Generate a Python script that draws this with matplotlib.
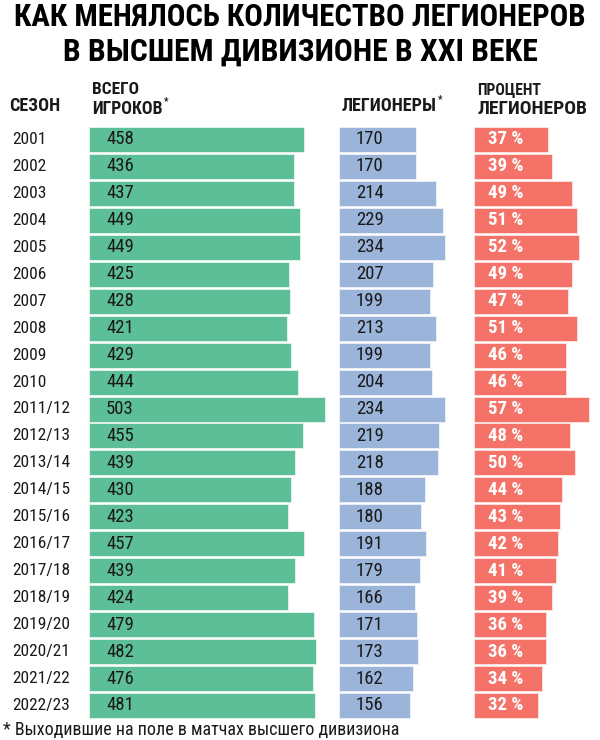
import matplotlib
matplotlib.use("Agg")
import matplotlib.pyplot as plt

seasons = ["2001", "2002", "2003", "2004", "2005", "2006", "2007", "2008", "2009", "2010",
           "2011/12", "2012/13", "2013/14", "2014/15", "2015/16", "2016/17", "2017/18",
           "2018/19", "2019/20", "2020/21", "2021/22", "2022/23"]
total_players = [458, 436, 437, 449, 449, 425, 428, 421, 429, 444, 503, 455, 439, 430, 423,
                 457, 439, 424, 479, 482, 476, 481]
legionnaires = [170, 170, 214, 229, 234, 207, 199, 213, 199, 204, 234, 219, 218, 188, 180,
                191, 179, 166, 171, 173, 162, 156]
legion_pct = [37, 39, 49, 51, 52, 49, 47, 51, 46, 46, 57, 48, 50, 44, 43, 42, 41, 39, 36, 36,
              34, 32]

title_lines = ["КАК МЕНЯЛОСЬ КОЛИЧЕСТВО ЛЕГИОНЕРОВ", "В ВЫСШЕМ ДИВИЗИОНЕ В XXI ВЕКЕ"]
footnote = "* Выходившие на поле в матчах высшего дивизиона"

FAM = ["Roboto Condensed", "Liberation Sans Narrow", "Roboto", "DejaVu Sans"]
plt.rcParams["font.family"] = FAM

GREEN = "#5cbf98"
BLUE = "#9bb4d9"
RED = "#f47268"
TXT = "#1a1a1a"

W, H = 600, 740
fig = plt.figure(figsize=(W / 100, H / 100), dpi=100)
fig.patch.set_facecolor("white")
renderer = fig.canvas.get_renderer()


def px_axes(left, top, width, height):
    return fig.add_axes([left / W, 1 - (top + height) / H, width / W, height / H])


def fit_text(x, y, s, target_w, size0=12, ha="left", **kw):
    t = fig.text(x / W, 1 - y / H, s, ha=ha, va="center", fontsize=size0, **kw)
    w = t.get_window_extent(renderer).width
    t.set_fontsize(size0 * target_w / w)
    return t


n = len(seasons)
row = 26.95
top0 = 139.5 - row / 2
ax_h = row * n
ypos = list(range(n))


def make_bar_axes(left, width, scale):
    ax = px_axes(left, top0, width, ax_h)
    ax.set_xlim(0, width / scale)
    ax.set_ylim(n - 0.5, -0.5)
    ax.axis("off")
    return ax


ax_g = make_bar_axes(89, 245, 0.47)
ax_b = make_bar_axes(339, 120, 0.455)
ax_r = make_bar_axes(474, 124, 2.01)

bh = 25 / row
ax_g.barh(ypos, total_players, height=bh, color=GREEN, edgecolor="#e8f5ef", linewidth=0.6)
ax_b.barh(ypos, legionnaires, height=bh, color=BLUE, edgecolor="#eef2f9", linewidth=0.6)
ax_r.barh(ypos, legion_pct, height=bh, color=RED, edgecolor="#fde6e4", linewidth=0.6)

for i in range(n):
    ax_g.text(17 / 0.47, i, str(total_players[i]), ha="left", va="center",
              fontsize=13.5, color=TXT)
    ax_b.text(17 / 0.455, i, str(legionnaires[i]), ha="left", va="center",
              fontsize=13.5, color=TXT)
    ax_r.text(14 / 2.01, i, f"{legion_pct[i]} %", ha="left", va="center",
              fontsize=13.5, color="white", fontweight="bold")

# season labels
ax_s = px_axes(0, top0, 89, ax_h)
ax_s.set_xlim(0, 89)
ax_s.set_ylim(n - 0.5, -0.5)
ax_s.axis("off")
for i, s in enumerate(seasons):
    ax_s.text(12, i, s, ha="left", va="center", fontsize=12.5, color=TXT)

# title (two lines, fitted to the reference widths)
fit_text(300, 17, title_lines[0], 574, size0=24, ha="center", fontweight="bold", color="black")
fit_text(300, 52, title_lines[1], 476, size0=24, ha="center", fontweight="bold", color="black")

# headers
hk = dict(fontweight="bold", color=TXT)
fit_text(9, 106, "СЕЗОН", 51, **hk)
fit_text(92, 90, "ВСЕГО", 47, **hk)
fit_text(92, 108.5, "ИГРОКОВ", 71, **hk)
fit_text(342, 106, "ЛЕГИОНЕРЫ", 95, **hk)
fit_text(477, 90, "ПРОЦЕНТ", 64, **hk)
fit_text(477, 108.5, "ЛЕГИОНЕРОВ", 110, **hk)
fig.text(164 / W, 1 - 101 / H, "*", ha="left", va="center", fontsize=7, fontweight="bold", color=TXT)
fig.text(438 / W, 1 - 99 / H, "*", ha="left", va="center", fontsize=7, fontweight="bold", color=TXT)

fit_text(3, 730, footnote, 395, size0=11, color=TXT)

fig.savefig("out.png", dpi=100, facecolor="white")
